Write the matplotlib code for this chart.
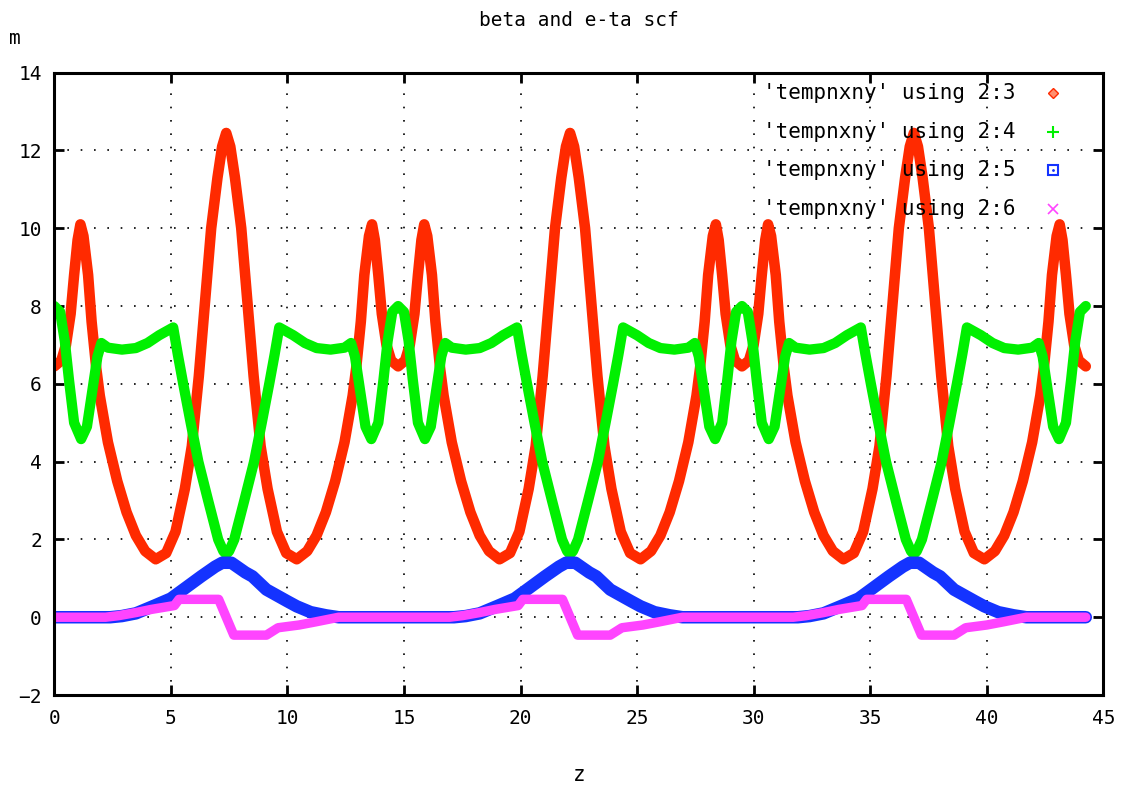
import matplotlib
matplotlib.use('Agg')
import matplotlib.pyplot as plt

# values (z in m)
z_col3 = [0, 0.3, 0.5, 0.7, 0.85, 1.0, 1.12, 1.25, 1.45, 1.6, 1.8, 1.95, 2.3, 2.7, 3.1, 3.5, 3.9, 4.35, 4.8, 5.2,
          5.6, 5.9, 6.2, 6.45, 6.73, 7.0, 7.2, 7.375, 7.55, 7.75, 8.02, 8.3, 8.55, 8.85, 9.15, 9.55, 9.95, 10.4,
          10.85, 11.25, 11.65, 12.05, 12.45, 12.8, 12.95, 13.15, 13.3, 13.5, 13.63, 13.75, 13.9, 14.05, 14.25, 14.45,
          14.75, 15.05, 15.25, 15.45, 15.6, 15.75, 15.87, 16.0, 16.2, 16.35, 16.55, 16.7, 17.05, 17.45, 17.85, 18.25,
          18.65, 19.1, 19.55, 19.95, 20.35, 20.65, 20.95, 21.2, 21.48, 21.75, 21.95, 22.125, 22.3, 22.5, 22.77, 23.05,
          23.3, 23.6, 23.9, 24.3, 24.7, 25.15, 25.6, 26.0, 26.4, 26.8, 27.2, 27.55, 27.7, 27.9, 28.05, 28.25, 28.38,
          28.5, 28.65, 28.8, 29.0, 29.2,
          29.5, 29.8, 30.0, 30.2, 30.35, 30.5, 30.62, 30.75, 30.95, 31.1, 31.3, 31.45, 31.8, 32.2, 32.6, 33.0, 33.4,
          33.85, 34.3, 34.7, 35.1, 35.4, 35.7, 35.95, 36.23, 36.5, 36.7, 36.875, 37.05, 37.25, 37.52, 37.8, 38.05,
          38.35, 38.65, 39.05, 39.45, 39.9, 40.35, 40.75, 41.15, 41.55, 41.95, 42.3, 42.45, 42.65, 42.8, 43.0, 43.13,
          43.25, 43.4, 43.55, 43.75, 43.95, 44.25]
col3 = [6.45, 6.6, 7.0, 7.8, 8.8, 9.7, 10.1, 9.8, 8.8, 7.6, 6.4, 5.7, 4.5, 3.5, 2.7, 2.1, 1.7, 1.49, 1.65, 2.2,
        3.3, 4.4, 6.2, 8.0, 10.0, 11.3, 12.1, 12.45, 12.1, 11.3, 10.0, 8.0, 6.2, 4.4, 3.3, 2.2, 1.65, 1.49,
        1.7, 2.1, 2.7, 3.5, 4.5, 5.7, 6.4, 7.6, 8.8, 9.8, 10.1, 9.7, 8.8, 7.8, 7.0, 6.6,
        6.45, 6.6, 7.0, 7.8, 8.8, 9.7, 10.1, 9.8, 8.8, 7.6, 6.4, 5.7, 4.5, 3.5, 2.7, 2.1,
        1.7, 1.49, 1.65, 2.2, 3.3, 4.4, 6.2, 8.0, 10.0, 11.3, 12.1, 12.45, 12.1, 11.3, 10.0, 8.0,
        6.2, 4.4, 3.3, 2.2, 1.65, 1.49, 1.7, 2.1, 2.7, 3.5, 4.5, 5.7, 6.4, 7.6, 8.8, 9.8, 10.1,
        9.7, 8.8, 7.8, 7.0, 6.6,
        6.45, 6.6, 7.0, 7.8, 8.8, 9.7, 10.1, 9.8, 8.8, 7.6, 6.4, 5.7, 4.5, 3.5, 2.7, 2.1, 1.7,
        1.49, 1.65, 2.2, 3.3, 4.4, 6.2, 8.0, 10.0, 11.3, 12.1, 12.45, 12.1, 11.3, 10.0, 8.0, 6.2,
        4.4, 3.3, 2.2, 1.65, 1.49, 1.7, 2.1, 2.7, 3.5, 4.5, 5.7, 6.4, 7.6, 8.8, 9.8, 10.1,
        9.7, 8.8, 7.8, 7.0, 6.6, 6.45]

z_col4 = [0, 0.25, 0.45, 0.63, 0.85, 1.15, 1.4, 1.65, 1.85, 2.02, 2.3, 2.9, 3.5, 4.0, 4.5, 5.1, 5.3, 5.53, 5.85,
          6.18, 6.6, 7.03, 7.25, 7.375, 7.5, 7.72, 8.15, 8.57, 8.9, 9.22, 9.45, 9.65, 10.25, 10.75, 11.25, 11.85,
          12.45, 12.73, 12.9, 13.1, 13.35, 13.6, 13.9, 14.12, 14.3, 14.5,
          14.75, 15.0, 15.2, 15.38, 15.6, 15.9, 16.15, 16.4, 16.6, 16.77, 17.05, 17.65, 18.25, 18.75, 19.25, 19.85,
          20.05, 20.28, 20.6, 20.93, 21.35, 21.78, 22.0, 22.125, 22.25, 22.47, 22.9, 23.32, 23.65, 23.97, 24.2,
          24.4, 25.0, 25.5, 26.0, 26.6, 27.2, 27.48, 27.65, 27.85, 28.1, 28.35, 28.65, 28.87, 29.05, 29.25,
          29.5, 29.75, 29.95, 30.13, 30.35, 30.65, 30.9, 31.15, 31.35, 31.52, 31.8, 32.4, 33.0, 33.5, 34.0, 34.6,
          34.8, 35.03, 35.35, 35.68, 36.1, 36.53, 36.75, 36.875, 37.0, 37.22, 37.65, 38.07, 38.4, 38.72, 38.95,
          39.15, 39.75, 40.25, 40.75, 41.35, 41.95, 42.23, 42.4, 42.6, 42.85, 43.1, 43.4, 43.62, 43.8, 44.0, 44.25]
col4 = [8.0, 7.85, 7.1, 6.1, 5.0, 4.58, 4.9, 5.9, 6.7, 7.05, 6.93, 6.88, 6.92, 7.05, 7.25, 7.45, 6.75, 6.0, 5.0,
        4.0, 3.0, 2.0, 1.7, 1.62, 1.7, 2.0, 3.0, 4.0, 5.0, 6.0, 6.75, 7.45, 7.25, 7.05, 6.92, 6.88,
        6.93, 7.05, 6.7, 5.9, 4.9, 4.58, 5.0, 6.1, 7.1, 7.85,
        8.0, 7.85, 7.1, 6.1, 5.0, 4.58, 4.9, 5.9, 6.7, 7.05, 6.93, 6.88, 6.92, 7.05, 7.25, 7.45,
        6.75, 6.0, 5.0, 4.0, 3.0, 2.0, 1.7, 1.62, 1.7, 2.0, 3.0, 4.0, 5.0, 6.0, 6.75,
        7.45, 7.25, 7.05, 6.92, 6.88, 6.93, 7.05, 6.7, 5.9, 4.9, 4.58, 5.0, 6.1, 7.1, 7.85,
        8.0, 7.85, 7.1, 6.1, 5.0, 4.58, 4.9, 5.9, 6.7, 7.05, 6.93, 6.88, 6.92, 7.05, 7.25, 7.45,
        6.75, 6.0, 5.0, 4.0, 3.0, 2.0, 1.7, 1.62, 1.7, 2.0, 3.0, 4.0, 5.0, 6.0, 6.75,
        7.45, 7.25, 7.05, 6.92, 6.88, 6.93, 7.05, 6.7, 5.9, 4.9, 4.58, 5.0, 6.1, 7.1, 7.85, 8.0]

z_col5 = [0, 2.4, 2.9, 3.5, 4.3, 5.0, 5.64, 6.3, 6.9, 7.2, 7.6, 8.2, 8.5, 9.1, 10.0, 10.4, 11.0, 11.65, 12.2,
          14.75, 17.15, 17.65, 18.25, 19.05, 19.75, 20.39, 21.05, 21.65, 21.95, 22.35, 22.95, 23.25, 23.85, 24.75,
          25.15, 25.75, 26.4, 26.95,
          29.5, 31.9, 32.4, 33.0, 33.8, 34.5, 35.14, 35.8, 36.4, 36.7, 37.1, 37.7, 38.0, 38.6, 39.5, 39.9, 40.5,
          41.15, 41.7, 44.25]
col5 = [0, 0, 0.03, 0.1, 0.3, 0.48, 0.76, 1.05, 1.3, 1.4, 1.4, 1.15, 1.05, 0.71, 0.41, 0.28, 0.13, 0.05, 0.0,
        0, 0, 0.03, 0.1, 0.3, 0.48, 0.76, 1.05, 1.3, 1.4, 1.4, 1.15, 1.05, 0.71, 0.41,
        0.28, 0.13, 0.05, 0.0,
        0, 0, 0.03, 0.1, 0.3, 0.48, 0.76, 1.05, 1.3, 1.4, 1.4, 1.15, 1.05, 0.71, 0.41, 0.28, 0.13,
        0.05, 0.0, 0]

z_col6 = [0, 2.2, 2.75, 3.5, 4.15, 5.15, 5.35, 7.05, 7.7, 9.1, 9.6, 10.5, 11.2, 12.2,
          14.75, 16.95, 17.5, 18.25, 18.9, 19.9, 20.1, 21.8, 22.45, 23.85, 24.35, 25.25, 25.95, 26.95,
          29.5, 31.7, 32.25, 33.0, 33.65, 34.65, 34.85, 36.55, 37.2, 38.6, 39.1, 40.0, 40.7, 41.7, 44.25]
col6 = [0, 0, 0.04, 0.12, 0.2, 0.3, 0.46, 0.46, -0.46, -0.46, -0.27, -0.2, -0.12, 0,
        0, 0, 0.04, 0.12, 0.2, 0.3, 0.46, 0.46, -0.46, -0.46, -0.27, -0.2, -0.12, 0,
        0, 0, 0.04, 0.12, 0.2, 0.3, 0.46, 0.46, -0.46, -0.46, -0.27, -0.2, -0.12, 0, 0]

labels = ["'tempnxny' using 2:3", "'tempnxny' using 2:4",
          "'tempnxny' using 2:5", "'tempnxny' using 2:6"]
colors = ['#ff2a00', '#00f000', '#1433ff', '#ff44ff']

plt.rcParams['font.family'] = ['DejaVu Sans Mono', 'DejaVu Sans']

fig = plt.figure(figsize=(11.22, 7.89), dpi=100)
ax = fig.add_axes([0.0484, 0.1191, 0.9349, 0.7888])

ax.plot(z_col3, col3, color=colors[0], linewidth=7.6, solid_joinstyle='round', solid_capstyle='round')
ax.plot(z_col4, col4, color=colors[1], linewidth=7.4, solid_joinstyle='round', solid_capstyle='round')
ax.plot(z_col5, col5, color=colors[2], linewidth=9, solid_joinstyle='round', solid_capstyle='round')
ax.plot(z_col6, col6, color=colors[3], linewidth=6.8, solid_joinstyle='round', solid_capstyle='round')

ax.set_xlim(0, 45)
ax.set_ylim(-2, 14)
ax.set_xticks(range(0, 46, 5))
ax.set_yticks(range(-2, 15, 2))
ax.tick_params(direction='in', length=7, width=2, top=True, right=True, labelsize=14)
ax.tick_params(axis='x', pad=10)
ax.tick_params(axis='y', pad=9)
ax.grid(True, color='black', linestyle=(0, (1, 7)), linewidth=1.2)
for sp in ax.spines.values():
    sp.set_linewidth(2.2)

# legend, gnuplot style: text right aligned, sample point on the right
markers = [dict(marker='D', markersize=5, markerfacecolor='#ff9070', markeredgecolor=colors[0], markeredgewidth=1),
           dict(marker='+', markersize=8, markeredgecolor=colors[1], markeredgewidth=1.5),
           dict(marker='s', markersize=7, markerfacecolor='none', markeredgecolor=colors[2], markeredgewidth=1.5),
           dict(marker='x', markersize=7, markeredgecolor=colors[3], markeredgewidth=1.2)]
for i in range(4):
    yy = 0.967 - i * 0.0619
    ax.text(0.9166, yy, labels[i], transform=ax.transAxes, ha='right', va='center', fontsize=15,
            zorder=5)
    ax.plot([0.952], [yy], linestyle='none', transform=ax.transAxes, zorder=5, **markers[i])
ax.plot([0.952], [0.967 - 2 * 0.0619], linestyle='none', marker='.', markersize=2,
        color=colors[2], transform=ax.transAxes, zorder=6)

fig.text(0.5159, 1 - 21 / 789, 'beta and e-ta scf', ha='center', va='center', fontsize=14)
fig.text(15 / 1122, 1 - 38 / 789, 'm', ha='center', va='center', fontsize=14)
fig.text(0.5159, 1 - 775 / 789, 'z', ha='center', va='center', fontsize=15)

fig.savefig('out.png', dpi=100)
